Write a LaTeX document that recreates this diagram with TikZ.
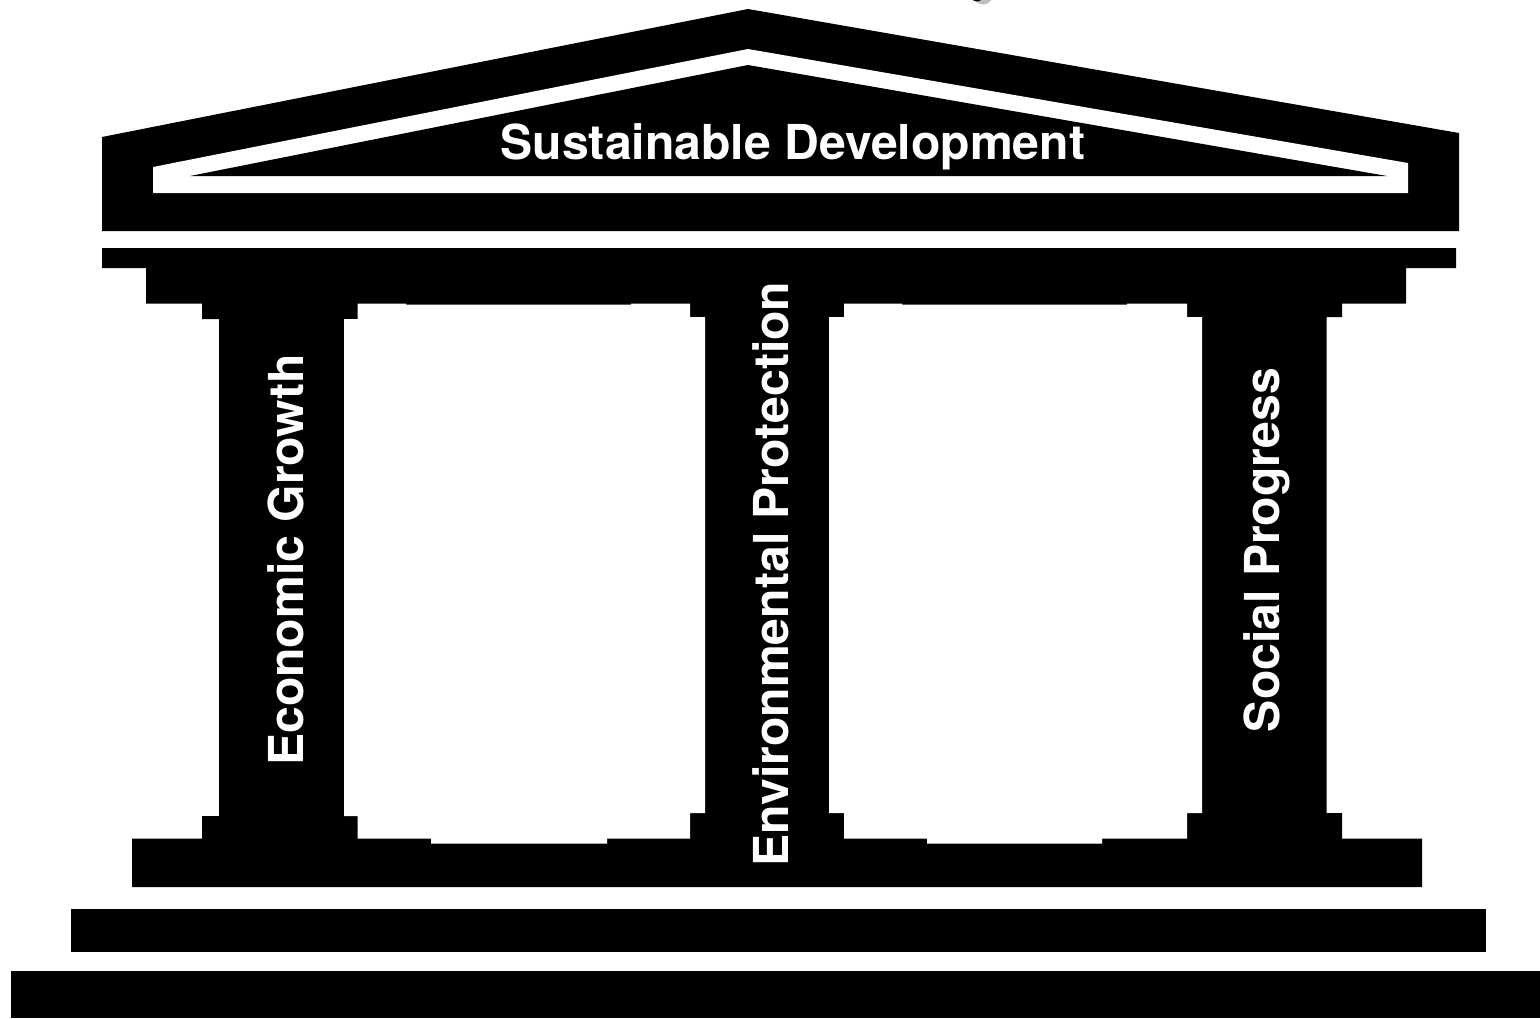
\documentclass[tikz,border=0pt]{standalone}
\usepackage{fontspec}
\setmainfont{TeX Gyre Heros}
\tikzset{
  solid part/.style={fill=black,draw=none},
  cut part/.style={fill=white,draw=none},
  caption/.style={text=white,font=\fontsize{48.15}{52}\selectfont\bfseries,inner sep=0pt,anchor=center}
}
\begin{document}
\begin{tikzpicture}[x=1pt,y=-1pt]
\useasboundingbox (0,0) rectangle (1540,1018);
% stray shadowed glyph tail at the top edge
\fill[black!25] (975,0) .. controls (978,6) and (988,6) .. (991,0) -- cycle;
\fill[black] (973,0) .. controls (975,2) and (979,2) .. (981,0) -- cycle;
% roof
\fill[solid part] (748,9) -- (1459,133) -- (1459,231) -- (102,231) -- (102,137) -- cycle;
\fill[cut part] (748,49) -- (1408,163) -- (1408,193) -- (153,193) -- (153,167) -- cycle;
\fill[solid part] (748,65) -- (1387,176) -- (190,176) -- cycle;
% temple body
\fill[solid part] (102,248) -- (1456,248) -- (1456,268) -- (1406,268) -- (1406,303.5)
  -- (1342,303.5) -- (1342,317) -- (1326.5,317) -- (1326.5,813) -- (1342,813) -- (1342,838.7)
  -- (1422,838.7) -- (1422,887) -- (132,887) -- (132,838.7) -- (202,838.7) -- (202,816)
  -- (219,816) -- (219,319) -- (202,319) -- (202,303.5) -- (146,303.5) -- (146,268) -- (102,268) -- cycle;
% openings between the columns
\fill[solid part] (344,303) rectangle (1202,843.5);
\fill[cut part] (357.5,303.5) -- (406,303.5) -- (406,304.6) -- (631,304.6) -- (631,303.5) -- (690,303.5)
  -- (690,317) -- (705,317) -- (705,813) -- (690,813) -- (690,838.7) -- (607,838.7) -- (607,843.5)
  -- (431,843.5) -- (431,838.7) -- (357.5,838.7) -- (357.5,816) -- (344,816) -- (344,319) -- (357.5,319) -- cycle;
\fill[cut part] (844,303.5) -- (902,303.5) -- (902,304.6) -- (1127,304.6) -- (1127,303.5) -- (1187,303.5)
  -- (1187,317) -- (1202,317) -- (1202,813) -- (1187,813) -- (1187,838.7) -- (1102,838.7) -- (1102,843.5)
  -- (927,843.5) -- (927,838.7) -- (844,838.7) -- (844,813) -- (829,813) -- (829,317) -- (844,317) -- cycle;
% steps
\fill[solid part] (71,909) rectangle (1486,952);
\fill[solid part] (11,971) rectangle (1540,1018);
% labels
\node[caption] (roofLabel) at (792.8,147) {Sustainable Development};
\node[caption,rotate=90] (econLabel) at (286,560) {Economic Growth};
\node[caption,rotate=90] (envLabel) at (771,574) {Environmental Protection};
\node[caption,rotate=90] (socLabel) at (1267,550) {Social Progress};
\end{tikzpicture}
\end{document}
